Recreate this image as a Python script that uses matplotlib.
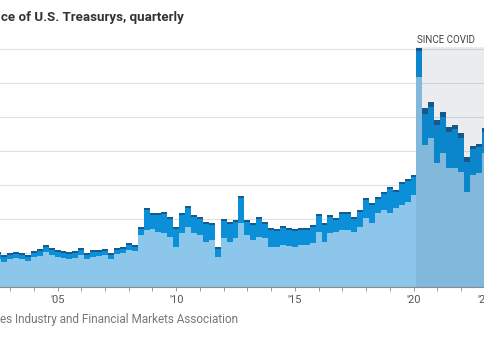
import numpy as np
import pandas as pd
import matplotlib
matplotlib.use('Agg')
import matplotlib.pyplot as plt

# quarterly series, starting 2002Q2 (left edge is cropped in the reference)
first_quarter = '2002Q2'

# bottom layer (light blue)
light_vals = [0.82, 0.74, 0.82, 0.85, 0.82, 0.76, 0.88, 0.91, 1.03, 0.94,
              0.88, 0.85, 0.82, 0.85, 0.94, 0.82, 0.88, 0.91, 0.94, 0.82,
              0.97, 1.00, 1.09, 1.06, 1.53, 1.68, 1.71, 1.62, 1.59, 1.47,
              1.18, 1.59, 1.76, 1.59, 1.53, 1.32, 1.38, 0.88, 1.44, 1.32,
              1.44, 1.88, 1.53, 1.38, 1.47, 1.44, 1.18, 1.18, 1.24, 1.21,
              1.18, 1.24, 1.24, 1.29, 1.62, 1.32, 1.59, 1.62, 1.68, 1.68,
              1.62, 1.76, 2.03, 1.88, 2.18, 2.26, 2.18, 2.32, 2.41, 2.50,
              2.71, 6.18, 4.18, 4.38, 3.65, 3.94, 3.50, 3.50, 3.38, 2.79,
              3.29, 3.35, 3.94]

# middle layer (medium blue)
mid_vals = [0.16, 0.15, 0.13, 0.13, 0.13, 0.13, 0.13, 0.16, 0.16, 0.16,
            0.16, 0.16, 0.16, 0.16, 0.16, 0.13, 0.16, 0.13, 0.13, 0.13,
            0.13, 0.13, 0.15, 0.13, 0.18, 0.59, 0.42, 0.51, 0.57, 0.54,
            0.53, 0.54, 0.57, 0.48, 0.48, 0.54, 0.45, 0.25, 0.51, 0.54,
            0.48, 0.75, 0.39, 0.45, 0.54, 0.42, 0.51, 0.48, 0.50, 0.48,
            0.48, 0.45, 0.45, 0.48, 0.48, 0.51, 0.48, 0.36, 0.48, 0.48,
            0.39, 0.45, 0.54, 0.54, 0.42, 0.48, 0.71, 0.48, 0.63, 0.63,
            0.53, 0.76, 0.90, 0.91, 1.11, 1.06, 1.06, 1.14, 1.00, 0.88,
            0.77, 0.77, 0.62]

# thin top layer (dark blue)
top_vals = [0.05] * 71 + [0.09, 0.18, 0.15, 0.15, 0.15, 0.15, 0.12, 0.15,
                          0.15, 0.09, 0.09, 0.12]

tick_years = list(range(2003, 2024))
label_years = {2005: "'05", 2010: "'10", 2015: "'15", 2020: "'20", 2023: "'23"}

covid_start = '2020Q1'

LIGHT = '#8cc6eb'
MID = '#0a8fd8'
DARK = '#175b8e'

# positions: each quarter drawn from mid-quarter to next mid-quarter
periods = pd.period_range(first_quarter, periods=len(light_vals) + 1, freq='Q')
edges = np.array([p.year + (p.quarter - 1) / 4 + 0.125 for p in periods])
cv = pd.Period(covid_start, freq='Q')
covid_x = cv.year + (cv.quarter - 1) / 4 + 0.125

light = np.array(light_vals)
mid = np.array(mid_vals)
top = np.array(top_vals)

plt.rcParams['font.family'] = ['Roboto', 'DejaVu Sans']

fig = plt.figure(figsize=(4.85, 3.37), dpi=100)
ax = fig.add_axes([0, 50 / 337, 1, 240 / 337])

ax.stairs(light, edges, baseline=0, fill=True, color=LIGHT, lw=0, zorder=2)
ax.stairs(light + mid, edges, baseline=light, fill=True, color=MID, lw=0, zorder=2)
ax.stairs(light + mid + top, edges, baseline=light + mid, fill=True, color=DARK, lw=0, zorder=2)

# covid shading
ax.axvspan(covid_x, 2030, color='#2a3550', alpha=0.09, lw=0, zorder=3)
ax.text(covid_x + 0.02, 7.12, 'SINCE COVID', fontsize=7, color='#444444',
        ha='left', va='bottom', clip_on=False)

ax.set_xlim(2002.575, 2023.013)
ax.set_ylim(0, 240 / 34)

ax.set_yticks(range(0, 8))
ax.yaxis.grid(True, color='#e0e0e0', lw=0.8, zorder=1)
ax.set_axisbelow(True)
ax.tick_params(axis='y', left=False, labelleft=False)

ax.set_xticks(tick_years)
ax.set_xticklabels([label_years.get(y, '') for y in tick_years])
ax.tick_params(axis='x', length=3, width=0.7, color='#999999', labelcolor='#555555',
               labelsize=8, pad=3)

for s in ['top', 'left', 'right']:
    ax.spines[s].set_visible(False)
ax.spines['bottom'].set_color('#8a8a8a')
ax.spines['bottom'].set_linewidth(0.8)

fig.text(0.002, 1 - 17 / 337, 'ce of U.S. Treasurys, quarterly', fontsize=9.6,
         fontweight='bold', color='#333333', ha='left', va='center')
fig.text(0.0, 1 - 319 / 337, 'es Industry and Financial Markets Association', fontsize=8.5,
         color='#777777', ha='left', va='center')

fig.savefig('out.png', dpi=100)
